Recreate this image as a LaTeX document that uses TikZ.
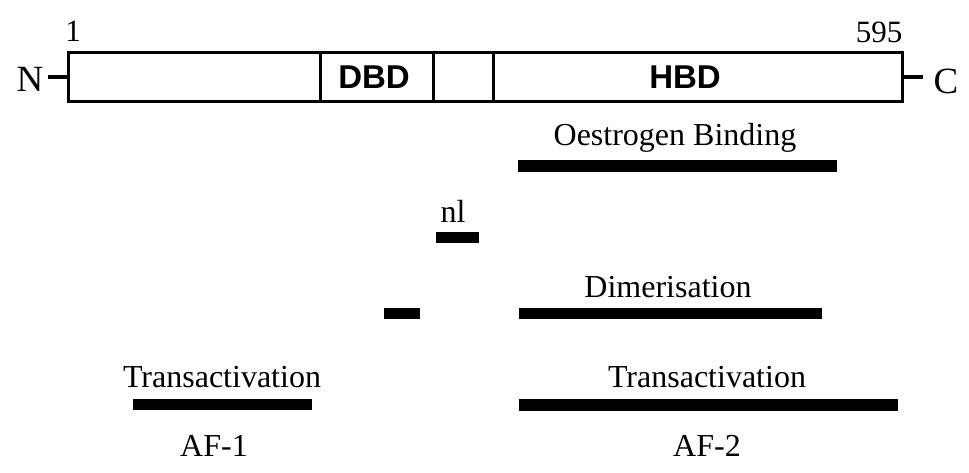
\documentclass[tikz,border=0pt]{standalone}
\usepackage{fontspec}
\setmainfont{Liberation Serif}
\newfontfamily\hvfont{Liberation Sans}
\begin{document}
\begin{tikzpicture}[x=1pt,y=-1pt,
  lbl/.style={inner sep=0pt,anchor=base,font=\fontsize{32}{32}\selectfont},
  num/.style={inner sep=0pt,anchor=base,font=\fontsize{31}{31}\selectfont},
  term/.style={inner sep=0pt,anchor=base,font=\fontsize{37}{37}\selectfont},
  dom/.style={inner sep=0pt,anchor=base,font=\hvfont\bfseries\fontsize{33}{33}\selectfont},
  boxline/.style={line width=3pt},
  stub/.style={line width=4.5pt},
  domainbar/.style={fill=black}]
\useasboundingbox (0,0) rectangle (969,472);
% protein bar
\draw[boxline] (68,52) rectangle (902,101);
\draw[boxline] (320,52) -- (320,101);
\draw[boxline] (433,52) -- (433,101);
\draw[boxline] (493,52) -- (493,101);
\coordinate (nL) at (68,77);
\coordinate (nS) at (48,77);
\coordinate (cR) at (902,77);
\coordinate (cS) at (923,77);
\draw[stub] (nS) -- (nL);
\draw[stub] (cR) -- (cS);
\node[term] (N) at (30,91) {N};
\node[term] (C) at (946,93) {C};
\node[num] (one) at (73,41) {1};
\node[num] (end) at (879,42) {595};
\node[dom] (dbd) at (374,88) {DBD};
\node[dom] (hbd) at (685,88) {HBD};
% functional domains
\node[lbl] (oest) at (675,145) {Oestrogen Binding};
\fill[domainbar] (518,160) rectangle (837,172);
\node[lbl] (nl) at (453,222) {nl};
\fill[domainbar] (436,232) rectangle (479,243);
\node[lbl] (dim) at (668,297) {Dimerisation};
\fill[domainbar] (384,308) rectangle (420,319);
\fill[domainbar] (519,308) rectangle (822,319);
\node[lbl] (ta1) at (222,387) {Transactivation};
\fill[domainbar] (133,399) rectangle (312,410);
\node[lbl] (ta2) at (707,387) {Transactivation};
\fill[domainbar] (519,399) rectangle (898,411);
\node[lbl] (af1) at (214,456) {AF-1};
\node[lbl] (af2) at (707,456) {AF-2};
\end{tikzpicture}
\end{document}
